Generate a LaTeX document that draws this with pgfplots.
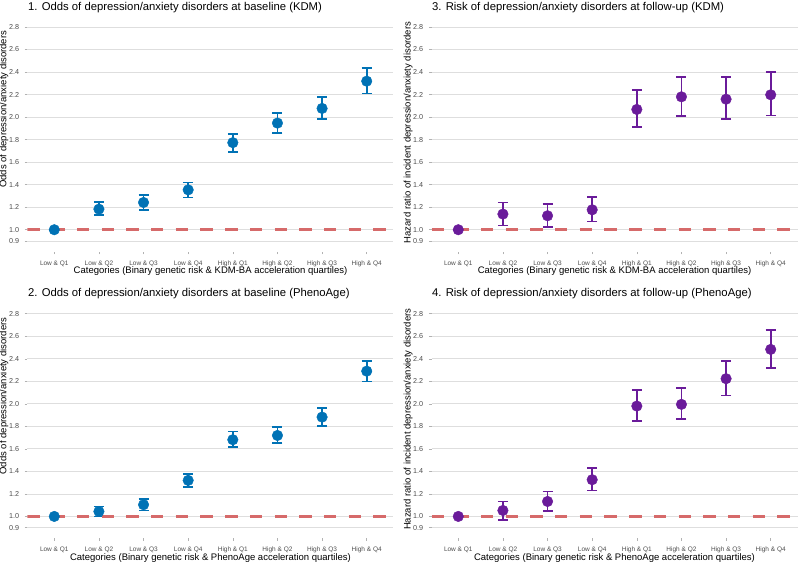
\documentclass[border=0pt]{standalone}
\usepackage{pgfplots}
\pgfplotsset{compat=1.18}
\usepackage{pgfplotstable}
\usepackage{fontspec}
\setmainfont{Liberation Sans}
\definecolor{cblue}{RGB}{0,114,181}
\definecolor{cpurple}{RGB}{106,27,154}
\definecolor{cred}{RGB}{214,106,106}
\definecolor{tickgray}{RGB}{77,77,77}
\definecolor{gridgray}{RGB}{222,222,222}
\newcommand{\tfont}{\fontsize{11.3}{13}\selectfont}
\newcommand{\lfont}{\fontsize{9.5}{11}\selectfont}

% x  y  lo  hi
\pgfplotstableread{
x y lo hi
0 1.000 1.000 1.000
1 1.183 1.133 1.245
2 1.242 1.177 1.310
3 1.354 1.286 1.420
4 1.773 1.693 1.850
5 1.947 1.861 2.035
6 2.077 1.982 2.180
7 2.319 2.209 2.437
}\tabA
\pgfplotstableread{
x y lo hi
0 1.000 1.000 1.000
1 1.139 1.038 1.242
2 1.124 1.024 1.230
3 1.177 1.074 1.292
4 2.068 1.914 2.239
5 2.180 2.012 2.357
6 2.159 1.985 2.354
7 2.198 2.015 2.400
}\tabC
\pgfplotstableread{
x y lo hi
0 1.000 1.000 1.000
1 1.044 1.000 1.089
2 1.104 1.053 1.154
3 1.320 1.260 1.379
4 1.681 1.616 1.755
5 1.719 1.651 1.796
6 1.882 1.800 1.965
7 2.290 2.199 2.382
}\tabB
\pgfplotstableread{
x y lo hi
0 1.000 1.000 1.000
1 1.053 0.970 1.133
2 1.133 1.047 1.222
3 1.326 1.231 1.429
4 1.980 1.850 2.125
5 1.995 1.867 2.140
6 2.223 2.075 2.380
7 2.483 2.320 2.658
}\tabD

\pgfplotsset{
  panel/.style={
    scale only axis, width=366pt, height=235.4pt,
    xmin=-0.6, xmax=7.6, ymin=0.805, ymax=2.895,
    axis line style={draw=none},
    xtick={0,...,7},
    xticklabels={Low \& Q1,Low \& Q2,Low \& Q3,Low \& Q4,High \& Q1,High \& Q2,High \& Q3,High \& Q4},
    ytick={0.9,1,1.2,1.4,1.6,1.8,2,2.2,2.4,2.6,2.8},
    yticklabels={0.9,1.0,1.2,1.4,1.6,1.8,2.0,2.2,2.4,2.6,2.8},
    xtick pos=bottom, ytick pos=left,
    tick align=outside, major tick length=2.75pt,
    tick style={color=gray!60, line width=0.5pt},
    ymajorgrids, major grid style={color=gridgray, line width=0.8pt},
    yticklabel style={font=\fontsize{7.2}{8}\selectfont, text=tickgray, anchor=east, inner sep=0pt, xshift=-5.5pt},
    xticklabel style={font=\fontsize{6.5}{7}\selectfont, text=tickgray, anchor=base, inner sep=0pt, yshift=-10.8pt},
    every axis title/.style={at={(rel axis cs:0,1)}, anchor=base west, yshift=6.2pt, xshift=0.5pt, inner sep=0pt, font=\tfont},
    every axis x label/.style={at={(rel axis cs:0.5,0)}, anchor=base, yshift=-22.3pt, inner sep=0pt, font=\lfont},
  },
  leftlab/.style={every axis y label/.style={at={([xshift=-21.2pt]rel axis cs:0,0.605)}, rotate=90, anchor=base, inner sep=0pt, font=\lfont}},
  rightlab/.style={every axis y label/.style={at={([xshift=-20.8pt]rel axis cs:0,0.506)}, rotate=90, anchor=base, inner sep=0pt, font=\lfont}},
  pts/.style={only marks, mark=*, mark size=5.3pt, color=#1,
    error bars/.cd, y dir=both, y explicit,
    error bar style={line width=1.7pt, color=#1},
    error mark options={rotate=90, mark size=5pt, line width=1.7pt, color=#1}},
  refline/.style={cred, line width=3.2pt, dash pattern=on 12.4pt off 12.3pt, forget plot},
}

\begin{document}
\begin{tikzpicture}
\useasboundingbox (0,0) rectangle (798pt,562pt);

\begin{axis}[panel, leftlab, at={(27.5pt,310.3pt)}, anchor=south west,
  title={\tfont 1. Odds of depression/anxiety disorders at baseline (KDM)},
  xlabel={\lfont Categories (Binary genetic risk \& KDM-BA acceleration quartiles)},
  ylabel={\lfont Odds of depression/anxiety disorders}]
\addplot[pts=cblue] table[x=x, y=y, y error plus expr=\thisrow{hi}-\thisrow{y}, y error minus expr=\thisrow{y}-\thisrow{lo}] {\tabA};
\addplot[refline] coordinates {(-0.6,1) (7.6,1)};
\end{axis}

\begin{axis}[panel, rightlab, at={(431.5pt,310.3pt)}, anchor=south west,
  title={\tfont 3. Risk of depression/anxiety disorders at follow-up (KDM)},
  xlabel={\lfont Categories (Binary genetic risk \& KDM-BA acceleration quartiles)},
  ylabel={\lfont Hazard ratio of incident depression/anxiety disorders}]
\addplot[pts=cpurple] table[x=x, y=y, y error plus expr=\thisrow{hi}-\thisrow{y}, y error minus expr=\thisrow{y}-\thisrow{lo}] {\tabC};
\addplot[refline] coordinates {(-0.6,1) (7.6,1)};
\end{axis}

\begin{axis}[panel, leftlab, at={(27.5pt,23.6pt)}, anchor=south west,
  title={\tfont 2. Odds of depression/anxiety disorders at baseline (PhenoAge)},
  xlabel={\lfont Categories (Binary genetic risk \& PhenoAge acceleration quartiles)},
  ylabel={\lfont Odds of depression/anxiety disorders}]
\addplot[pts=cblue] table[x=x, y=y, y error plus expr=\thisrow{hi}-\thisrow{y}, y error minus expr=\thisrow{y}-\thisrow{lo}] {\tabB};
\addplot[refline] coordinates {(-0.6,1) (7.6,1)};
\end{axis}

\begin{axis}[panel, rightlab, at={(431.5pt,23.6pt)}, anchor=south west,
  title={\tfont 4. Risk of depression/anxiety disorders at follow-up (PhenoAge)},
  xlabel={\lfont Categories (Binary genetic risk \& PhenoAge acceleration quartiles)},
  ylabel={\lfont Hazard ratio of incident depression/anxiety disorders}]
\addplot[pts=cpurple] table[x=x, y=y, y error plus expr=\thisrow{hi}-\thisrow{y}, y error minus expr=\thisrow{y}-\thisrow{lo}] {\tabD};
\addplot[refline] coordinates {(-0.6,1) (7.6,1)};
\end{axis}
\end{tikzpicture}
\end{document}
